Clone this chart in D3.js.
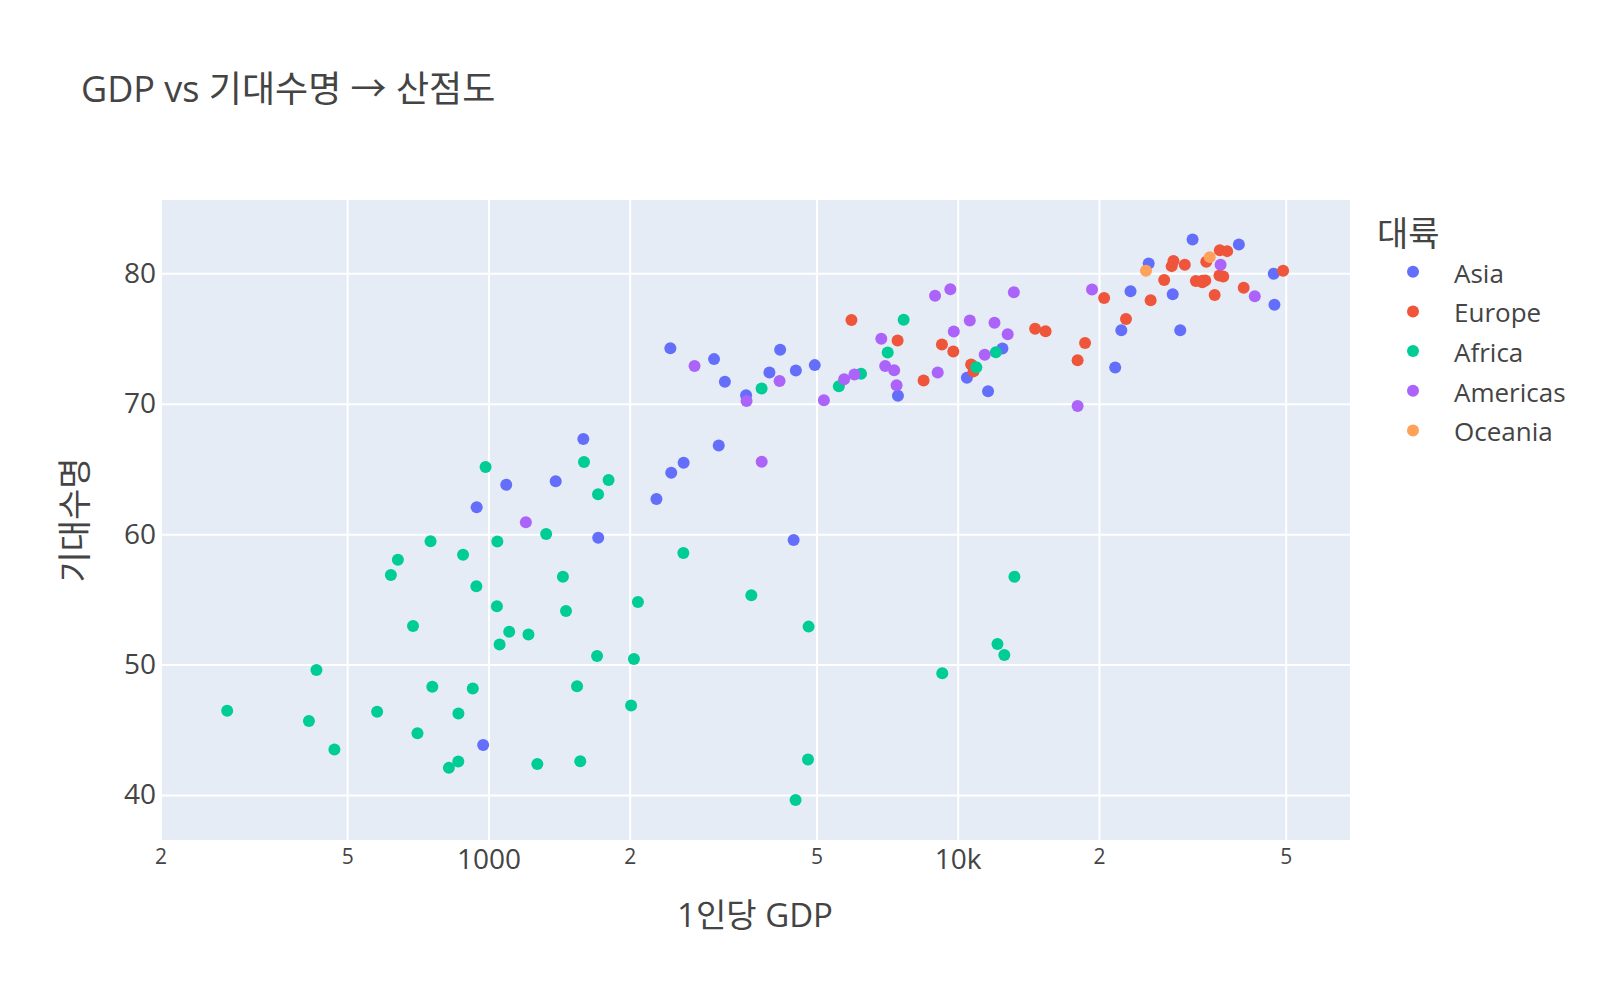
<!DOCTYPE html>
<html>
<head>
<meta charset="utf-8">
<script src="https://cdn.jsdelivr.net/npm/d3@7"></script>
<style>
  body { margin: 0; background: #fff; }
  svg text { font-family: "Open Sans", "Noto Sans CJK KR", sans-serif; fill: #444; }
</style>
</head>
<body>
<div id="chart"></div>
<script>
// gapminder 2007 - gdp per capita / life expectancy by continent
var continents = ["Asia", "Europe", "Africa", "Americas", "Oceania"];

var asiaGdp = [974.58, 29796.05, 1391.25, 1713.78, 4959.11, 39724.98, 2452.21, 3540.65, 11605.71, 4471.06, 25523.28, 31656.07, 4519.46, 1593.07, 23348.14, 47306.99, 10461.06, 12451.66, 3095.77, 944.0, 1091.36, 22316.19, 2605.95, 3190.48, 21654.83, 47143.18, 3970.10, 4184.55, 28718.28, 7458.40, 2441.58, 3025.35, 2280.77];
var asiaLife = [43.83, 75.64, 64.06, 59.72, 72.96, 82.21, 64.70, 70.65, 70.96, 59.55, 80.75, 82.60, 72.54, 67.30, 78.62, 77.59, 71.99, 74.24, 66.80, 62.07, 63.79, 75.64, 65.48, 71.69, 72.78, 79.97, 72.40, 74.14, 78.40, 70.62, 74.25, 73.42, 62.70];

var europeGdp = [5937.03, 36126.49, 33692.61, 7446.30, 10680.79, 14619.22, 22833.31, 35278.42, 33207.08, 30470.02, 32170.37, 27538.41, 18008.94, 36180.79, 40676.00, 28569.72, 9253.90, 36797.93, 49357.19, 15389.92, 20509.65, 10808.48, 9786.53, 18678.31, 25768.26, 28821.06, 33859.75, 37506.42, 8458.28, 33203.26];
var europeLife = [76.42, 79.83, 79.44, 74.85, 73.01, 75.75, 76.49, 78.33, 79.31, 80.66, 79.41, 79.48, 73.34, 81.76, 78.89, 80.55, 74.54, 79.76, 80.20, 75.56, 78.10, 72.48, 74.00, 74.66, 77.93, 80.94, 80.88, 81.70, 71.78, 79.43];

var africaGdp = [6223.37, 4797.23, 1441.28, 12569.85, 1217.03, 430.07, 2042.10, 706.02, 1704.06, 986.15, 277.55, 3632.56, 1544.75, 2082.48, 5581.18, 12154.09, 641.37, 690.81, 13206.48, 752.75, 1327.61, 942.65, 579.23, 1463.25, 1569.33, 414.51, 12057.50, 1044.77, 759.35, 1042.58, 1803.15, 10956.99, 3820.18, 823.69, 4811.06, 619.68, 2013.98, 7670.12, 863.09, 1598.44, 1712.47, 862.54, 926.14, 9269.66, 2602.39, 4513.48, 1107.48, 882.97, 7092.92, 1056.38, 1271.21, 469.71];
var africaLife = [72.30, 42.73, 56.73, 50.73, 52.30, 49.58, 50.43, 44.74, 50.65, 65.15, 46.46, 55.32, 48.33, 54.79, 71.34, 51.58, 58.04, 52.95, 56.74, 59.45, 60.02, 56.01, 46.39, 54.11, 42.59, 45.68, 73.95, 59.44, 48.30, 54.47, 64.16, 72.80, 71.16, 42.08, 52.91, 56.87, 46.86, 76.44, 46.24, 65.53, 63.06, 42.57, 48.16, 49.34, 58.56, 39.61, 52.52, 58.42, 73.92, 51.54, 42.38, 43.49];

var americasGdp = [12779.38, 3822.14, 9065.80, 36319.24, 13171.64, 7006.58, 9645.06, 8948.10, 6025.37, 6873.26, 5728.35, 5186.05, 1201.64, 3548.33, 7320.88, 11977.57, 2749.32, 9809.19, 4172.84, 7408.91, 19328.71, 18008.51, 42951.65, 10611.46, 11415.81];
var americasLife = [75.32, 65.55, 72.39, 80.65, 78.55, 72.89, 78.78, 78.27, 72.24, 74.99, 71.88, 70.26, 60.92, 70.20, 72.57, 76.20, 72.90, 75.54, 71.75, 71.42, 78.75, 69.82, 78.24, 76.38, 73.75];

var oceaniaGdp = [34435.37, 25185.01];
var oceaniaLife = [81.24, 80.20];

var xTicks = [200, 500, 1000, 2000, 5000, 10000, 20000, 50000];
var xTickLabels = ["2", "5", "1000", "2", "5", "10k", "2", "5"];
var yTicks = [40, 50, 60, 70, 80];

var colors = ["#636efa", "#EF553B", "#00cc96", "#ab63fa", "#FFA15A"];

var series = [
    {name: "Asia", gdp: asiaGdp, life: asiaLife},
    {name: "Europe", gdp: europeGdp, life: europeLife},
    {name: "Africa", gdp: africaGdp, life: africaLife},
    {name: "Americas", gdp: americasGdp, life: americasLife},
    {name: "Oceania", gdp: oceaniaGdp, life: oceaniaLife}
];

var margin = {top: 200, right: 250, bottom: 160, left: 160},
    width = 1600 - margin.left - margin.right,
    height = 1000 - margin.top - margin.bottom;

var svg = d3.select("#chart")
    .append("svg")
    .attr("width", 1600)
    .attr("height", 1000);

var g = svg.append("g")
    .attr("transform", "translate(" + margin.left + "," + margin.top + ")");

// scales
var x = d3.scaleLog()
    .domain([Math.pow(10, 2.3002), Math.pow(10, 4.8359)])
    .range([0, width]);

var y = d3.scaleLinear()
    .domain([36.55, 85.62])
    .range([height, 0]);

// plot background
g.append("rect")
    .attr("width", width)
    .attr("height", height)
    .attr("fill", "#E5ECF6");

// grid lines
g.append("g")
    .attr("class", "grid")
    .call(d3.axisBottom(x).tickValues(xTicks).tickSize(height).tickFormat(""))
    .call(s => s.select(".domain").remove())
    .selectAll("line")
    .attr("stroke", "#fff")
    .attr("stroke-width", 2);

g.append("g")
    .attr("class", "grid")
    .call(d3.axisLeft(y).tickValues(yTicks).tickSize(-width).tickFormat(""))
    .call(s => s.select(".domain").remove())
    .selectAll("line")
    .attr("stroke", "#fff")
    .attr("stroke-width", 2);

// x axis labels
var xAxis = g.append("g")
    .attr("transform", "translate(0," + height + ")")
    .call(d3.axisBottom(x).tickValues(xTicks).tickSize(0).tickPadding(9)
        .tickFormat((d, i) => xTickLabels[i]));
xAxis.select(".domain").remove();
xAxis.selectAll("text")
    .attr("fill", "#444")
    .style("font-size", (d, i) => (xTickLabels[i] === "2" || xTickLabels[i] === "5") ? "21px" : "28px");

// y axis labels
var yAxis = g.append("g")
    .call(d3.axisLeft(y).tickValues(yTicks).tickSize(0).tickPadding(4));
yAxis.select(".domain").remove();
yAxis.selectAll("text")
    .attr("fill", "#444")
    .style("font-size", "28px");

// points
series.forEach(function (s, k) {
    g.append("g").selectAll("circle")
        .data(s.gdp)
        .enter().append("circle")
        .attr("cx", d => x(d))
        .attr("cy", (d, i) => y(s.life[i]))
        .attr("r", 6)
        .attr("fill", colors[k]);
});

// titles
svg.append("text")
    .attr("x", 81)
    .attr("y", 102)
    .style("font-size", "36px")
    .text("GDP vs 기대수명 → 산점도");

svg.append("text")
    .attr("x", margin.left + width / 2)
    .attr("y", 927)
    .attr("text-anchor", "middle")
    .style("font-size", "33px")
    .text("1인당 GDP");

svg.append("text")
    .attr("transform", "translate(87," + (margin.top + height / 2) + ") rotate(-90)")
    .attr("text-anchor", "middle")
    .style("font-size", "34px")
    .text("기대수명");

// legend
var legend = svg.append("g");
legend.append("text")
    .attr("x", 1377)
    .attr("y", 246)
    .style("font-size", "34px")
    .text("대륙");

continents.forEach(function (c, i) {
    legend.append("circle")
        .attr("cx", 1413)
        .attr("cy", 271.7 + i * 39.7)
        .attr("r", 6)
        .attr("fill", colors[i]);
    legend.append("text")
        .attr("x", 1454)
        .attr("y", 282.5 + i * 39.7)
        .style("font-size", "26px")
        .text(c);
});
</script>
</body>
</html>
